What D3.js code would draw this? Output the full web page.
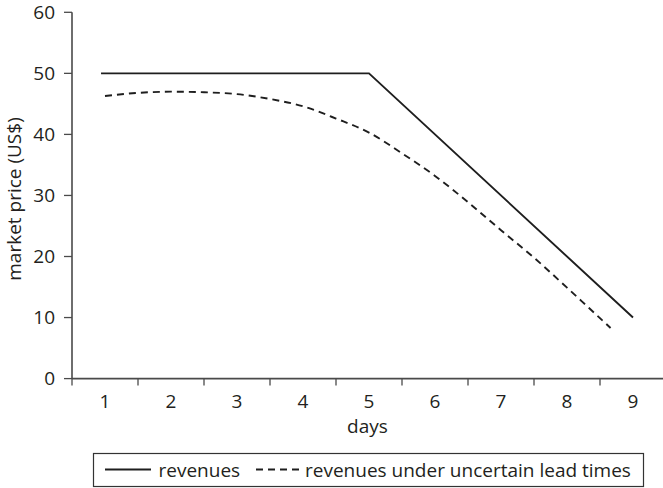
<!DOCTYPE html>
<html>
<head>
<meta charset="utf-8">
<script src="https://cdn.jsdelivr.net/npm/d3@7"></script>
<style>
  html, body { margin: 0; padding: 0; background: #fff; }
  svg text { font-family: "Open Sans", "Noto Sans", sans-serif; fill: #231f20; }
</style>
</head>
<body>
<svg id="chart" width="663" height="488"></svg>
<script>
// ---- data ----
const dayLabels = ["1", "2", "3", "4", "5", "6", "7", "8", "9"];
const yTicks = [0, 10, 20, 30, 40, 50, 60];

const revenuesDays   = [0.94, 5, 9];
const revenuesValues = [50, 50, 10];

const uncertainDays   = [1, 1.5, 2, 2.5, 3, 3.5, 4, 4.5, 5, 5.5, 6, 6.5, 7, 7.5, 8, 8.33, 8.66];
const uncertainValues = [46.3, 46.8, 47.0, 46.9, 46.6, 45.8, 44.6, 42.6, 40.3, 36.9, 33.2, 28.9, 24.3, 19.8, 14.9, 11.6, 8.3];

const seriesNames = ["revenues", "revenues under uncertain lead times"];

// ---- layout ----
const svg = d3.select("#chart");
const x = d3.scaleLinear().domain([0.5, dayLabels.length + 0.5]).range([72, 666]);
const y = d3.scaleLinear().domain([0, 60]).range([378.6, 12.3]);
const axisColor = "#4a4a4a";
const lineColor = "#1e1e1e";
const fs = 19;

// y axis
svg.append("line").attr("x1", 72).attr("x2", 72).attr("y1", y(60)).attr("y2", y(0))
  .attr("stroke", axisColor).attr("stroke-width", 1.6);
svg.selectAll(".ytick").data(yTicks).enter().append("line")
  .attr("x1", 64).attr("x2", 72).attr("y1", d => y(d)).attr("y2", d => y(d))
  .attr("stroke", axisColor).attr("stroke-width", 1.3);
svg.selectAll(".ylab").data(yTicks).enter().append("text")
  .attr("x", 55).attr("y", d => y(d)).attr("dy", "0.36em")
  .attr("text-anchor", "end").attr("font-size", fs).text(d => d);

// x axis
svg.append("line").attr("x1", x(0.5)).attr("x2", x(dayLabels.length + 0.5))
  .attr("y1", y(0)).attr("y2", y(0)).attr("stroke", axisColor).attr("stroke-width", 1.6);
const boundaries = d3.range(0.5, dayLabels.length + 0.5, 1);
svg.selectAll(".xtick").data(boundaries).enter().append("line")
  .attr("x1", d => x(d)).attr("x2", d => x(d)).attr("y1", y(0)).attr("y2", y(0) + 7)
  .attr("stroke", axisColor).attr("stroke-width", 1.3);
svg.selectAll(".xlab").data(dayLabels).enter().append("text")
  .attr("x", (d, i) => x(i + 1)).attr("y", 408)
  .attr("text-anchor", "middle").attr("font-size", fs).text(d => d);

// axis titles
svg.append("text").attr("x", 367.5).attr("y", 433).attr("text-anchor", "middle")
  .attr("font-size", fs).text("days");
svg.append("text").attr("transform", "translate(20.5,199) rotate(-90)")
  .attr("text-anchor", "middle").attr("font-size", fs).text("market price (US$)");

// lines
const solidData = revenuesDays.map((d, i) => [d, revenuesValues[i]]);
const dashData = uncertainDays.map((d, i) => [d, uncertainValues[i]]);

svg.append("path").datum(solidData)
  .attr("d", d3.line().x(d => x(d[0])).y(d => y(d[1])))
  .attr("fill", "none").attr("stroke", lineColor).attr("stroke-width", 1.9);
svg.append("path").datum(dashData)
  .attr("d", d3.line().curve(d3.curveMonotoneX).x(d => x(d[0])).y(d => y(d[1])))
  .attr("fill", "none").attr("stroke", lineColor).attr("stroke-width", 1.9)
  .attr("stroke-dasharray", "7,5");

// legend
const lg = svg.append("g");
lg.append("rect").attr("x", 93.5).attr("y", 453.5).attr("width", 550).attr("height", 33)
  .attr("fill", "#fff").attr("stroke", "#333").attr("stroke-width", 1.2);
lg.append("line").attr("x1", 105).attr("x2", 151).attr("y1", 469.5).attr("y2", 469.5)
  .attr("stroke", lineColor).attr("stroke-width", 1.9);
lg.append("text").attr("x", 158.5).attr("y", 476.5).attr("font-size", fs).text(seriesNames[0]);
lg.append("line").attr("x1", 256).attr("x2", 302).attr("y1", 469.5).attr("y2", 469.5)
  .attr("stroke", lineColor).attr("stroke-width", 1.9).attr("stroke-dasharray", "7,5");
lg.append("text").attr("x", 305).attr("y", 476.5).attr("font-size", fs).text(seriesNames[1]);
</script>
</body>
</html>
